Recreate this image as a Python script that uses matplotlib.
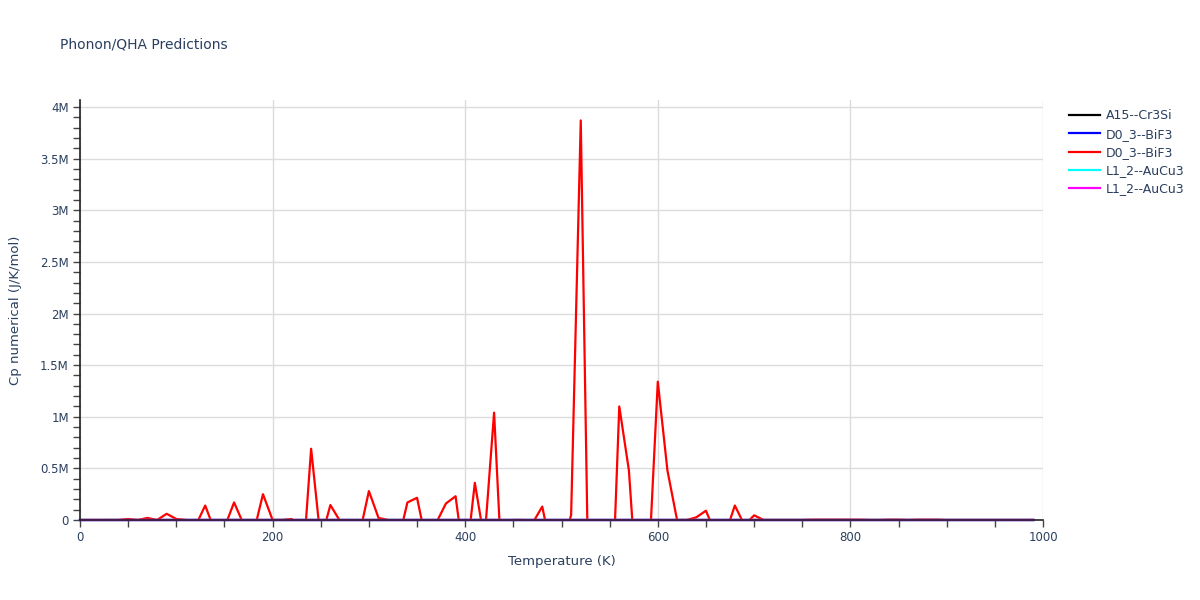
import numpy as np
import matplotlib.pyplot as plt
from matplotlib.ticker import MultipleLocator, FuncFormatter

# temperatures (K) for the red series, 0..990 in steps of 10
temps = list(range(0, 1000, 10))

# D0_3--BiF3 (red), Cp in millions of J/K/mol
# (negative points fall below the visible range, like the original)
cp_red_m = [
    0, 0, 0, 0, 0, 0.01, 0, 0.02, 0, 0.06,
    0.01, 0, -0.057, 0.14, -0.106, -0.073, 0.17, -0.045, -0.135, 0.25,
    0, 0, 0.01, -0.61, 0.69, -0.2, 0.145, -0.01, 0, -0.15,
    0.28, 0.02, 0, -0.225, 0.17, 0.215, -0.233, -0.026, 0.16, 0.23,
    -0.47, 0.36, -0.2, 1.04, -0.85, 0, 0, -0.03, 0.13, -0.32,
    -0.3, 0.05, 3.87, -1.83, 0, -1.4, 1.10, 0.48, -0.89, -0.55,
    1.34, 0.48, 0, 0, 0.026, 0.09, -0.135, -0.14, 0.14, -0.05,
    0.045, 0, 0, 0, 0, 0, 0.003, 0.003, 0.003, 0.003,
    0.003, 0.003, 0, 0, 0.003, 0.003, 0, 0.003, 0.003, 0.003,
    0, 0, 0, 0, 0, 0, 0, 0, 0, 0,
]

# the other phases stay near zero on this scale (J/K/mol)
t_flat = [0, 50, 100, 200, 300, 500, 700, 990]
cp_a15 = [0, 60, 85, 95, 98, 100, 101, 102]
cp_d03_blue = [0, 70, 90, 97, 99, 101, 102, 103]
cp_l12_cyan = [0, 55, 80, 93, 97, 99, 100, 101]
cp_l12_mag = [0, 58, 82, 94, 97, 99, 100, 101]

cp_red = [v * 1e6 for v in cp_red_m]

series = [
    ("A15--Cr3Si", t_flat, cp_a15, "black"),
    ("D0_3--BiF3", t_flat, cp_d03_blue, "blue"),
    ("D0_3--BiF3", temps, cp_red, "red"),
    ("L1_2--AuCu3", t_flat, cp_l12_cyan, "cyan"),
    ("L1_2--AuCu3", t_flat, cp_l12_mag, "magenta"),
]

txt = "#2a3f5f"
plt.rcParams['font.family'] = ['DejaVu Sans']

fig = plt.figure(figsize=(12, 6), dpi=100)
ax = fig.add_axes([80 / 1200, 80 / 600, 963 / 1200, 420 / 600])

for name, t, cp, col in series:
    ax.plot(t, cp, color=col, lw=1.6, label=name, clip_on=(col == "red"))

ax.set_xlim(0, 1000)
ax.set_ylim(0, 4.068e6)

ax.xaxis.set_major_locator(MultipleLocator(200))
ax.xaxis.set_minor_locator(MultipleLocator(50))
ax.yaxis.set_major_locator(MultipleLocator(0.5e6))
ax.yaxis.set_minor_locator(MultipleLocator(0.1e6))


def fmt_m(v, pos):
    if v == 0:
        return "0"
    return "{:g}M".format(v / 1e6)


ax.yaxis.set_major_formatter(FuncFormatter(fmt_m))
ax.grid(True, which="major", color="#dcdcdc", lw=1)
ax.set_axisbelow(True)

for s in ["top", "right"]:
    ax.spines[s].set_visible(False)
for s in ["left", "bottom"]:
    ax.spines[s].set_color("#222222")
    ax.spines[s].set_linewidth(1.2)

ax.tick_params(which="both", direction="out", length=5, width=1,
               color="#444444", labelcolor=txt, labelsize=8.5, pad=3)

ax.set_xlabel("Temperature (K)", color=txt, fontsize=9.5, labelpad=8)
ax.set_ylabel("Cp numerical (J/K/mol)", color=txt, fontsize=9.5, labelpad=13)

fig.text(60 / 1200, 1 - 45 / 600, "Phonon/QHA Predictions", color=txt,
         fontsize=10, va="center", ha="left")

leg = ax.legend(loc="upper left", bbox_to_anchor=(1.017, 1.0), frameon=False,
                fontsize=9, handlelength=2.5, handletextpad=0.45,
                labelspacing=0.42, borderaxespad=0.35)
for t in leg.get_texts():
    t.set_color(txt)

fig.savefig("out.png", dpi=100)
